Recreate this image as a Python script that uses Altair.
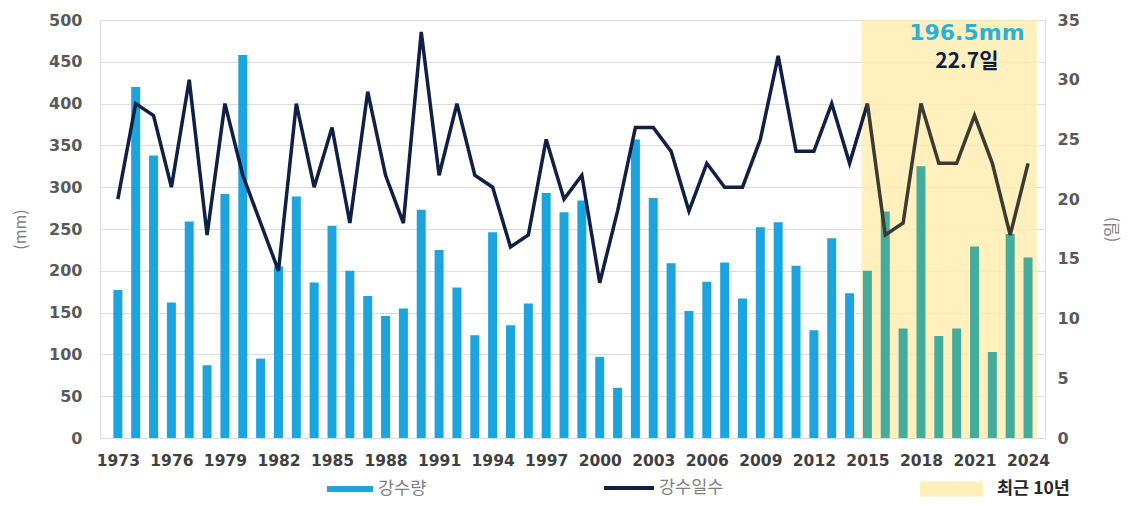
import altair as alt
import pandas as pd

years = list(range(1973, 2025))
rain_mm = [177, 420, 338, 162, 259, 87, 292, 458, 95, 205,
           289, 186, 254, 200, 170, 146, 155, 273, 225, 180,
           123, 246, 135, 161, 293, 270, 284, 97, 60, 357,
           287, 209, 152, 187, 210, 167, 252, 258, 206, 129,
           239, 173, 200, 271, 131, 325, 122, 131, 229, 103,
           244, 216]
rain_days = [20, 28, 27, 21, 30, 17, 28, 22, 18, 14,
             28, 21, 26, 18, 29, 22, 18, 34, 22, 28,
             22, 21, 16, 17, 25, 20, 22, 13, 19, 26,
             26, 24, 19, 23, 21, 21, 25, 32, 24, 24,
             28, 23, 28, 17, 18, 28, 23, 23, 27, 23,
             17, 23]
x_tick_years = years[::3]
recent_start, recent_end = 2015, 2024
annotation_texts = ["196.5mm", "22.7일"]
legend_labels = ["강수량", "강수일수", "최근 10년"]

BLUE = "#1CA4DE"
TEAL = "#45AC9C"
NAVY = "#0F1F45"
OLIVE = "#3C3B33"
YELLOW = "#FFECAE"
CJK = "Noto Sans CJK KR"

W, H = 945, 418

df = pd.DataFrame({"year": years, "rain": rain_mm, "days": rain_days})
df["rain_series"] = [legend_labels[0] if y < recent_start else "recent_rain" for y in years]

main_line = df[df.year <= recent_start].assign(line_series=legend_labels[1])
recent_line = df[df.year >= recent_start].assign(line_series="recent_days")
line_df = pd.concat([main_line, recent_line])

rect_df = pd.DataFrame({"x0": [recent_start - 0.35], "x1": [recent_end + 0.5],
                        "y0": [0], "y1": [500], "zone": [legend_labels[2]]})
center = (recent_start - 0.35 + recent_end + 0.5) / 2 + 1.0
ann_df = pd.DataFrame({"x": [center, center], "label": annotation_texts,
                       "row": [0, 1]})

xscale = alt.Scale(domain=[1972.28, 2024.67], nice=False, zero=False)
xaxis = alt.Axis(values=x_tick_years, format="d", title=None, grid=False, ticks=False,
                 domain=False, labelFont="DejaVu Sans", labelFontSize=15.5,
                 labelFontWeight=600, labelColor="#404040", labelPadding=15,
                 labelFlush=False)

legend_center = 469

rect = alt.Chart(rect_df).mark_rect(opacity=0.8).encode(
    x=alt.X("x0:Q", scale=xscale, axis=xaxis),
    x2="x1:Q",
    y=alt.Y("y0:Q"),
    y2="y1:Q",
    fill=alt.Fill("zone:N", scale=alt.Scale(domain=[legend_labels[2]], range=[YELLOW]),
                  legend=alt.Legend(title=None, orient="none", legendX=820,
                                    legendY=legend_center - 31.5,
                                    symbolType="M-1,-0.24H1V0.24H-1Z", symbolSize=3969,
                                    symbolOpacity=0.85, symbolStrokeWidth=0,
                                    labelFont=CJK, labelFontSize=17.5, labelFontWeight="bold",
                                    labelColor="#262626", labelOffset=14)),
)

bars = alt.Chart(df).mark_bar(size=9).encode(
    x=alt.X("year:Q", scale=xscale, axis=xaxis),
    y=alt.Y("rain:Q", scale=alt.Scale(domain=[0, 500], nice=False),
            axis=alt.Axis(orient="left", values=list(range(0, 501, 50)), title="(mm)",
                          grid=True, gridColor="#DCDCDC", gridWidth=1, ticks=False,
                          domain=False, labelFont="DejaVu Sans", labelFontSize=16,
                          labelFontWeight=600, labelColor="#595959", labelPadding=18,
                          titleFont=CJK, titleFontSize=16, titleFontWeight="normal",
                          titleColor="#7F7F7F", titlePadding=20, titleAngle=-90)),
    color=alt.Color("rain_series:N",
                    scale=alt.Scale(domain=[legend_labels[0], "recent_rain"], range=[BLUE, TEAL]),
                    legend=alt.Legend(title=None, orient="none", legendX=227,
                                      legendY=legend_center - 23,
                                      values=[legend_labels[0]],
                                      symbolType="M-1,-0.13H1V0.13H-1Z", symbolSize=2116,
                                      symbolStrokeWidth=0, symbolOpacity=1,
                                      labelFont=CJK, labelFontSize=17.5, labelColor="#7F7F7F",
                                      labelOffset=5)),
)

left = alt.layer(rect, bars)

line = alt.Chart(line_df).mark_line(strokeWidth=3.5, strokeJoin="miter").encode(
    x=alt.X("year:Q", scale=xscale, axis=xaxis),
    y=alt.Y("days:Q", scale=alt.Scale(domain=[0, 35], nice=False),
            axis=alt.Axis(orient="right", values=list(range(0, 36, 5)), title="(일)",
                          grid=False, ticks=False, domain=False, labelFont="DejaVu Sans",
                          labelFontSize=16, labelFontWeight=600, labelColor="#595959",
                          labelPadding=12, titleFont=CJK, titleFontSize=16,
                          titleFontWeight="normal", titleColor="#7F7F7F",
                          titlePadding=40, titleAngle=-90)),
    stroke=alt.Stroke("line_series:N",
                      scale=alt.Scale(domain=[legend_labels[1], "recent_days"], range=[NAVY, OLIVE]),
                      legend=alt.Legend(title=None, orient="none", legendX=502,
                                        legendY=legend_center - 3 - 25,
                                        values=[legend_labels[1]], symbolType="stroke",
                                        symbolSize=2500, symbolStrokeWidth=4,
                                        labelFont=CJK, labelFontSize=17.5, labelColor="#7F7F7F",
                                        labelOffset=3)),
    detail="line_series:N",
    order="year:Q",
)

ann1 = alt.Chart(ann_df[ann_df.row == 0]).mark_text(
    font="DejaVu Sans", fontSize=22, fontWeight="bold", color="#2BB0D8", align="center",
    baseline="middle").encode(x=alt.X("x:Q", scale=xscale, axis=xaxis), y=alt.value(13),
                              text="label:N")
ann2 = alt.Chart(ann_df[ann_df.row == 1]).mark_text(
    font=CJK, fontSize=21, fontWeight="bold", color=NAVY, align="center",
    baseline="middle").encode(x=alt.X("x:Q", scale=xscale, axis=xaxis), y=alt.value(42),
                              text="label:N")

chart = alt.layer(left, line, ann1, ann2).resolve_scale(
    y="independent", color="independent", stroke="independent", fill="independent"
).properties(
    width=W, height=H,
    autosize=alt.AutoSizeParams(type="none"),
    padding={"left": 92, "top": 12, "right": 77, "bottom": 60},
).configure_view(stroke=None).configure(background="white")

chart.save("out.html", embed_options={"renderer": "svg", "actions": False})
